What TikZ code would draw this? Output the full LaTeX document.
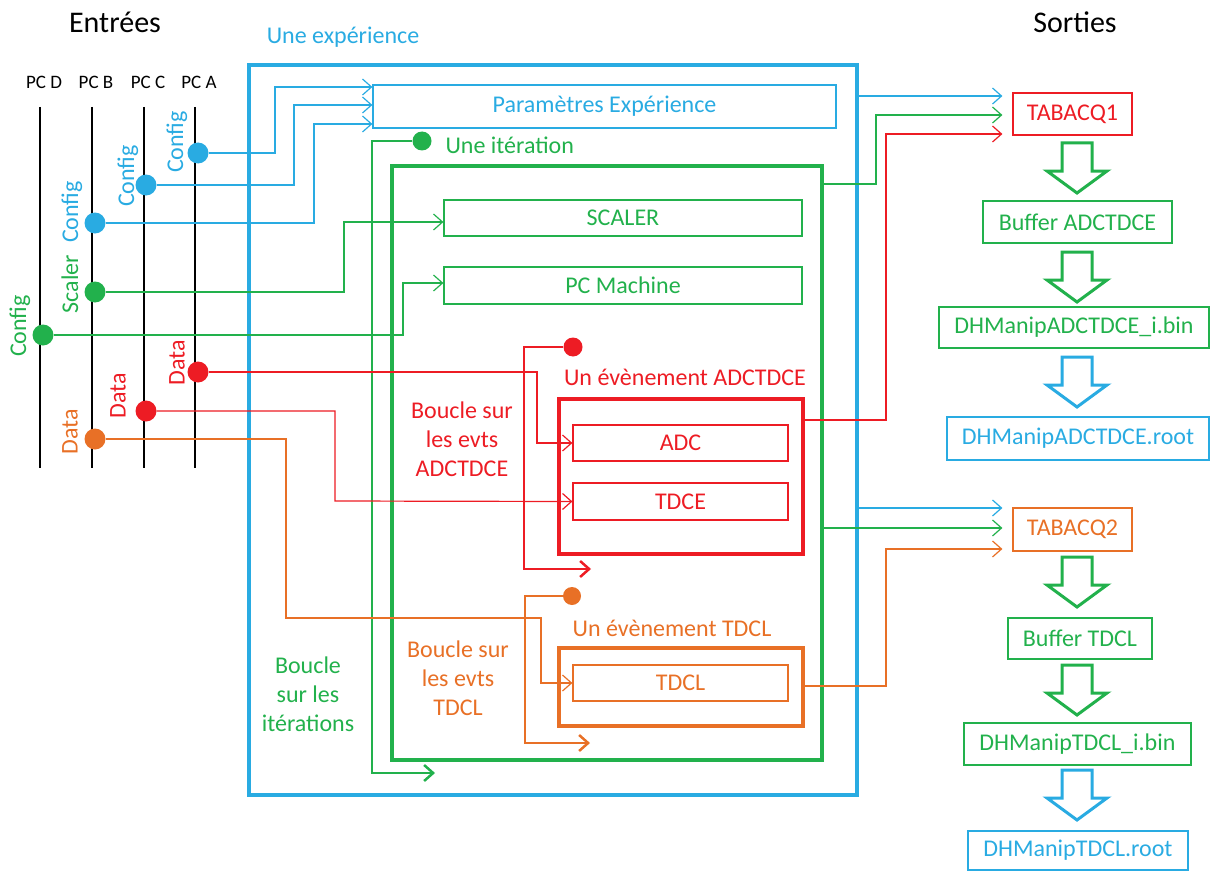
\documentclass[tikz,border=0pt]{standalone}
\usepackage{fontspec}
\setmainfont{Carlito}
\usetikzlibrary{arrows.meta}
\definecolor{cblue}{RGB}{41,171,226}
\definecolor{cgreen}{RGB}{34,177,76}
\definecolor{cred}{RGB}{237,28,36}
\definecolor{corange}{RGB}{232,112,38}
\begin{document}
\begin{tikzpicture}[x=1pt, y=-1pt, font=\fontsize{24}{29}\selectfont,
	>={Straight Barb[length=9pt,width=16pt]},
	boite/.style={draw, line width=1.2pt, inner sep=0pt},
	cadre/.style={draw, line width=3.5pt, inner sep=0pt},
	bullet/.style={circle, fill, inner sep=0pt, minimum size=21pt},
	fil/.style={line width=1.2pt},
	boucle/.style={line width=2.5pt},
	sortie/.style={fil, ->, shorten >=10pt}]
	\useasboundingbox (0,0) rectangle (1210,872);
	% Titres
	\node[font=\fontsize{30}{36}\selectfont] (entrees) at (115,22) {Entrées};
	\node[font=\fontsize{30}{36}\selectfont] (sorties) at (1075,22) {Sorties};
	% Les PC et leurs lignes
	\foreach \n/\x in {D/40, B/92, C/144, A/195} {
		\node[font=\fontsize{19}{22}\selectfont] (pc\n) at (\x+4,82) {PC \n};
		\draw[line width=2.5pt] (\x,107) -- (\x,468);
	}
	% Cadres
	\node[cadre, cblue, minimum width=608pt, minimum height=730pt] (exp) at (553,430) {};
	\node[cblue] (lexp) at (343,37) {Une expérience};
	\node[cadre, cgreen, minimum width=430pt, minimum height=594pt] (iter) at (607,463) {};
	\node[cadre, cred, minimum width=244pt, minimum height=155pt] (evA) at (681,476.5) {};
	\node[cadre, corange, minimum width=244pt, minimum height=78pt] (evT) at (681,687) {};
	% Boites
	\node[boite, cblue, minimum width=463pt, minimum height=43pt] (param) at (604.5,106.5) {Paramètres Expérience};
	\node[boite, cgreen, minimum width=358pt, minimum height=36pt] (scaler) at (623,218) {SCALER};
	\node[boite, cgreen, minimum width=358pt, minimum height=37pt] (pcm) at (623,285.5) {PC Machine};
	\node[boite, cred, minimum width=215pt, minimum height=36pt] (adc) at (680.5,443) {ADC};
	\node[boite, cred, minimum width=215pt, minimum height=37pt] (tdce) at (680.5,501.5) {TDCE};
	\node[boite, corange, minimum width=215pt, minimum height=36pt] (tdcl) at (680.5,683) {TDCL};
	% Sorties
	\node[boite, cred, minimum width=119pt, minimum height=42pt] (tab1) at (1072.5,114) {TABACQ1};
	\node[boite, cgreen, minimum width=189pt, minimum height=42pt] (bufA) at (1077.5,222) {Buffer ADCTDCE};
	\node[boite, cgreen, minimum width=270pt, minimum height=41pt] (binA) at (1074,327.5) {DHManipADCTDCE\_i.bin};
	\node[boite, cblue, minimum width=262pt, minimum height=43pt] (rootA) at (1078,438.5) {DHManipADCTDCE.root};
	\node[boite, corange, minimum width=119pt, minimum height=43pt] (tab2) at (1072.5,529.5) {TABACQ2};
	\node[boite, cgreen, minimum width=144pt, minimum height=41pt] (bufT) at (1080,638.5) {Buffer TDCL};
	\node[boite, cgreen, minimum width=227pt, minimum height=42pt] (binT) at (1077.5,744) {DHManipTDCL\_i.bin};
	\node[boite, cblue, line width=2.5pt, minimum width=220pt, minimum height=39pt] (rootT) at (1078,850.5) {DHManipTDCL.root};
	% Fleches creuses
	\foreach \t/\col in {143/cgreen, 252/cgreen, 357/cblue, 557/cgreen, 665/cgreen, 770/cblue}
	\draw[\col, line width=3pt, fill=white] (1062,\t) -- (1092,\t) -- (1092,\t+28) -- (1107,\t+28)
		-- (1077,\t+50) -- (1047,\t+28) -- (1062,\t+28) -- cycle;
	% Textes des boucles
	\node[cgreen, anchor=west] (literA) at (442,145) {Une itération};
	\node[cred] (levA) at (685,377) {Un évènement ADCTDCE};
	\node[corange] (levT) at (672,628) {Un évènement TDCL};
	\node[cred, align=center] (bA) at (462,439) {Boucle sur\\les evts\\ADCTDCE};
	\node[corange, align=center] (bT) at (458,678) {Boucle sur\\les evts\\TDCL};
	\node[cgreen, align=center] (bI) at (308,694) {Boucle\\sur les\\itérations};
	% Points des boucles
	\path
	(435,773) coordinate (finIter)
	(591,569) coordinate (finEvA)
	(590,743) coordinate (finEvT);
	\node[bullet, cgreen, minimum size=19pt] (dIter) at (422,141) {};
	\node[bullet, cred, minimum size=19pt] (dEvA) at (573,347) {};
	\node[bullet, corange, minimum size=18pt] (dEvT) at (572,596) {};
	\draw[boucle, cgreen, ->] (dIter) -| (372,773) -- (finIter);
	\draw[boucle, cred, ->] (dEvA) -| (524,569) -- (finEvA);
	\draw[boucle, corange, ->] (dEvT) -| (525,743) -- (finEvT);
	% Entrees
	\foreach \n/\x/\y/\col in {cfgA/198/153/cblue, cfgC/146/185/cblue, cfgB/95/223/cblue,
		scal/95/292/cgreen, cfgD/43/335/cgreen, datA/198/372/cred, datC/146/411/cred, datB/95/439/corange}
	\node[bullet, \col] (\n) at (\x,\y) {};
	\foreach \t/\x/\y/\col [count=\i] in {Config/177/142/cblue, Config/128/176/cblue, Config/72/212/cblue,
		Scaler/70/284/cgreen, Config/20/326/cgreen, Data/177/363/cred, Data/118/396/cred, Data/70/432/corange}
	\node[rotate=90, \col] (lbl\i) at (\x,\y) {\t};
	\draw[fil, cblue, ->] (cfgA) -| (275,87) -- (param.west |- 0,87);
	\draw[fil, cblue, ->] (cfgC) -| (294,105) -- (param.west |- 0,105);
	\draw[fil, cblue, ->] (cfgB) -| (314,124) -- (param.west |- 0,124);
	\draw[fil, cgreen, ->] (scal) -| (344,222) -- (scaler.west |- 0,222);
	\draw[fil, cgreen, ->] (cfgD) -| (403,283) -- (pcm.west |- 0,283);
	\draw[fil, cred, ->] (datA) -| (537,443) -- (adc.west);
	\draw[fil, cred, ->] (datC) -| (335,501) -- (tdce.west);
	\draw[fil, corange, ->] (datB) -| (286,618) -| (541,683) -- (tdcl.west);
	% Vers les sorties
	\draw[sortie, cblue] (exp.east |- 0,96) -- (tab1.west |- 0,96);
	\draw[sortie, cgreen] (iter.east |- 0,184) -| (876,115) -- (tab1.west |- 0,115);
	\draw[sortie, cred] (evA.east |- 0,420) -| (886,134) -- (tab1.west |- 0,134);
	\draw[sortie, cblue] (exp.east |- 0,508) -- (tab2.west |- 0,508);
	\draw[sortie, cgreen] (iter.east |- 0,528) -- (tab2.west |- 0,528);
	\draw[sortie, corange] (evT.east |- 0,686) -| (886,549) -- (tab2.west |- 0,549);
\end{tikzpicture}
\end{document}
